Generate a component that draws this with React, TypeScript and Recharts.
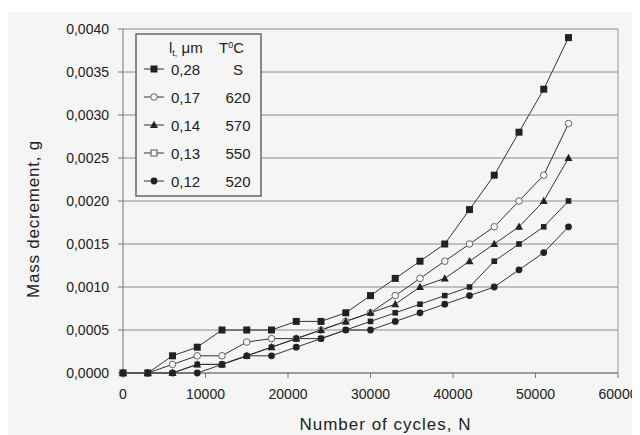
import React from "react";
import {
  CartesianGrid,
  Label,
  Legend,
  Line,
  LineChart,
  ReferenceLine,
  XAxis,
  YAxis,
} from "recharts";

const cycles = [0, 3000, 6000, 9000, 12000, 15000, 18000, 21000, 24000, 27000, 30000, 33000, 36000, 39000, 42000, 45000, 48000, 51000, 54000];

const lt028 = [0, 0, 0.0002, 0.0003, 0.0005, 0.0005, 0.0005, 0.0006, 0.0006, 0.0007, 0.0009, 0.0011, 0.0013, 0.0015, 0.0019, 0.0023, 0.0028, 0.0033, 0.0039];
const lt017 = [0, 0, 0.0001, 0.0002, 0.0002, 0.00036, 0.0004, 0.0004, 0.0005, 0.0006, 0.0007, 0.0009, 0.0011, 0.0013, 0.0015, 0.0017, 0.002, 0.0023, 0.0029];
const lt014 = [0, 0, 0, 0.0001, 0.0001, 0.0002, 0.0003, 0.0004, 0.0005, 0.0006, 0.0007, 0.0008, 0.001, 0.0011, 0.0013, 0.0015, 0.0017, 0.002, 0.0025];
const lt013 = [0, 0, 0, 0.0001, 0.0001, 0.0002, 0.0003, 0.0004, 0.0004, 0.0005, 0.0006, 0.0007, 0.0008, 0.0009, 0.001, 0.0013, 0.0015, 0.0017, 0.002];
const lt012 = [0, 0, 0, 0, 0.0001, 0.0002, 0.0002, 0.0003, 0.0004, 0.0005, 0.0005, 0.0006, 0.0007, 0.0008, 0.0009, 0.001, 0.0012, 0.0014, 0.0017];

const seriesKeys = ["s028", "s017", "s014", "s013", "s012"];
const thickness = ["0,28", "0,17", "0,14", "0,13", "0,12"];
const temperature = ["S", "620", "570", "550", "520"];
const markers = ["square", "openCircle", "triangle", "smallSquare", "circle"];

const xTicks = [0, 10000, 20000, 30000, 40000, 50000, 60000];
const yTicks = [0, 0.0005, 0.001, 0.0015, 0.002, 0.0025, 0.003, 0.0035, 0.004];

const data = cycles.map((n, i) => ({
  n,
  s028: lt028[i],
  s017: lt017[i],
  s014: lt014[i],
  s013: lt013[i],
  s012: lt012[i],
}));

const BG = "#f5f5f5";
const INK = "#222";
const LINE = "#333";
const FONT = "'Liberation Sans', Arial, sans-serif";

function Marker({ kind, cx, cy, legend }: { kind: string; cx: number; cy: number; legend?: boolean }) {
  if (kind === "square") return <rect x={cx - 3.5} y={cy - 3.5} width={7} height={7} fill={INK} />;
  if (kind === "smallSquare") {
    if (legend) return <rect x={cx - 3} y={cy - 3} width={6} height={6} fill={BG} stroke="#555" strokeWidth={1} />;
    return <rect x={cx - 2.8} y={cy - 2.8} width={5.6} height={5.6} fill={INK} />;
  }
  if (kind === "openCircle") return <circle cx={cx} cy={cy} r={3.3} fill={BG} stroke="#666" strokeWidth={1} />;
  if (kind === "triangle")
    return <path d={`M${cx},${cy - 4.2} L${cx + 4},${cy + 3} L${cx - 4},${cy + 3} Z`} fill={INK} />;
  return <circle cx={cx} cy={cy} r={3.4} fill={INK} />;
}

const makeDot = (kind: string) => (props: any) => {
  const { cx, cy, index } = props;
  if (cx == null || cy == null) return <g key={`d-${kind}-${index}`} />;
  return (
    <g key={`d-${kind}-${index}`}>
      <Marker kind={kind} cx={cx} cy={cy} />
    </g>
  );
};

function LegendBox() {
  return (
    <svg width={127} height={164} style={{ display: "block" }}>
      <rect x={1} y={1} width={125} height={162} fill={BG} stroke="#666" strokeWidth={1.5} />
      <text x={34} y={20} fontSize={15} fill={INK} fontFamily={FONT}>
        l<tspan fontSize={9} dy={3}>t,</tspan>
        <tspan dy={-3}> μm</tspan>
      </text>
      <text x={84} y={20} fontSize={15} fill={INK} fontFamily={FONT}>
        T<tspan fontSize={9} dy={-5}>0</tspan>
        <tspan dy={5}>C</tspan>
      </text>
      {thickness.map((t, i) => {
        const y = 36 + i * 28;
        return (
          <g key={t}>
            <line x1={9} x2={29} y1={y} y2={y} stroke={LINE} strokeWidth={1} />
            <Marker kind={markers[i]} cx={19} cy={y} legend />
            <text x={36} y={y + 5.5} fontSize={15} fill={INK} fontFamily={FONT}>
              {t}
            </text>
            <text x={103} y={y + 5.5} fontSize={15} fill={INK} fontFamily={FONT} textAnchor="middle">
              {temperature[i]}
            </text>
          </g>
        );
      })}
    </svg>
  );
}

const XTitle = (props: any) => {
  const { x, y, width } = props.viewBox;
  return (
    <text x={x + width / 2 + 15} y={y + 57} textAnchor="middle" fontSize={17} letterSpacing={1} fill={INK} fontFamily={FONT}>
      Number of cycles, N
    </text>
  );
};

const YTitle = (props: any) => {
  const { x, y, height } = props.viewBox;
  const cx = x + 10;
  const cy = y + height / 2 + 18;
  return (
    <text x={cx} y={cy} transform={`rotate(-90 ${cx} ${cy})`} textAnchor="middle" dominantBaseline="central" fontSize={17} letterSpacing={0.8} fill={INK} fontFamily={FONT}>
      Mass decrement, g
    </text>
  );
};

export default function App() {
  return (
    <div style={{ width: 632, height: 423, marginTop: 4, background: BG, position: "relative" }}>
      <LineChart width={632} height={423} data={data} margin={{ top: 17, right: 22, left: 15, bottom: 22 }} style={{ fontFamily: FONT }}>
        <CartesianGrid vertical={false} stroke="#8a8a8a" strokeWidth={1} />
        <XAxis
          dataKey="n"
          type="number"
          domain={[0, 60000]}
          ticks={xTicks}
          height={40}
          tickSize={5}
          tickMargin={11}
          stroke="#777"
          tick={{ fontSize: 14, fill: INK }}
          interval={0}
        >
          <Label content={XTitle} />
        </XAxis>
        <YAxis
          type="number"
          domain={[0, 0.004]}
          ticks={yTicks}
          width={100}
          tickSize={5}
          tickMargin={9}
          stroke="#777"
          tick={{ fontSize: 14, fill: INK }}
          tickFormatter={(v: number) => v.toFixed(4).replace(".", ",")}
          interval={0}
        >
          <Label content={YTitle} />
        </YAxis>
        <ReferenceLine x={60000} stroke="#999" strokeWidth={1} />
        <Legend
          layout="vertical"
          align="center"
          verticalAlign="middle"
          content={() => <LegendBox />}
          wrapperStyle={{ position: "absolute", left: 127, top: 21, width: 127, height: 164 }}
        />
        {seriesKeys.map((k, i) => (
          <Line
            key={k}
            dataKey={k}
            type="linear"
            stroke={LINE}
            strokeWidth={1}
            dot={makeDot(markers[i])}
            activeDot={false}
            isAnimationActive={false}
          />
        ))}
      </LineChart>
    </div>
  );
}
